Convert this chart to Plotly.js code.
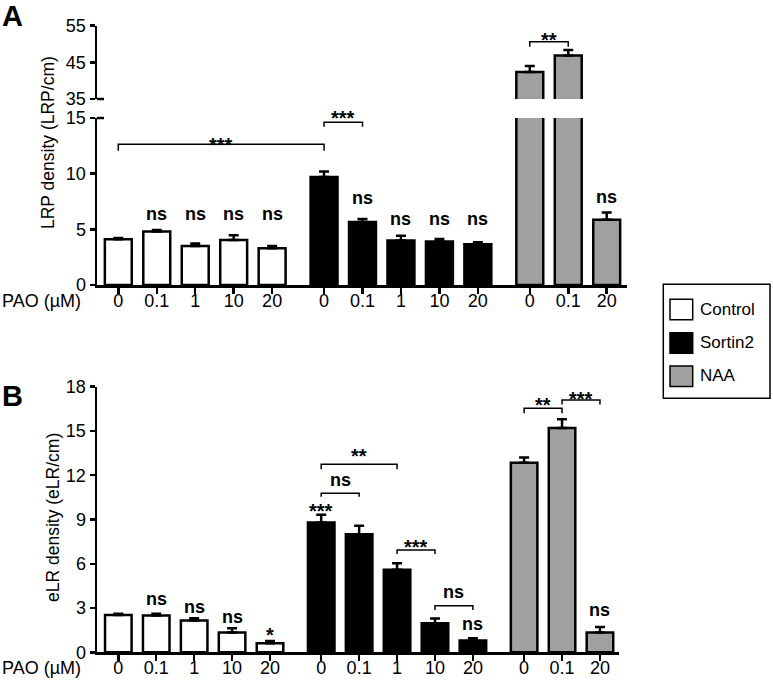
<!DOCTYPE html>
<html><head><meta charset="utf-8">
<script src="https://cdn.plot.ly/plotly-3.0.1.min.js"></script>
<style>html,body{margin:0;padding:0;background:#fff}</style>
</head><body><div id="chart" style="width:773px;height:682px"></div>
<script>
// ---------- data ----------
const groups = ['Control', 'Sortin2', 'NAA'];
const groupColors = ['#ffffff', '#000000', '#a0a0a0'];
const doseLabels = [['0','0.1','1','10','20'], ['0','0.1','1','10','20'], ['0','0.1','20']];
const lrpMean = [[4.1, 4.8, 3.5, 4.05, 3.3], [9.7, 5.65, 4.0, 3.9, 3.65], [42.4, 46.9, 5.85]];
const lrpErr  = [[0.12, 0.15, 0.22, 0.42, 0.2], [0.5, 0.27, 0.42, 0.23, 0.18], [1.6, 1.5, 0.66]];
const elrMean = [[2.52, 2.5, 2.15, 1.35, 0.62], [8.8, 8.0, 5.6, 1.97, 0.8], [12.85, 15.2, 1.35]];
const elrErr  = [[0.1, 0.12, 0.15, 0.28, 0.15], [0.52, 0.58, 0.43, 0.32, 0.16], [0.36, 0.6, 0.36]];
const xAxisLabel = 'PAO (µM)';
const yTitleA = 'LRP density (LRP/cm)';
const yTitleB = 'eLR density (eLR/cm)';
const lowerTicksA = [0, 5, 10, 15];
const upperTicksA = [35, 45, 55];
const ticksB = [0, 3, 6, 9, 12, 15, 18];

// ---------- layout helpers ----------
const W = 773, H = 682;
const px = v => v / W;
const py = v => 1 - v / H;
const GAP = 1.35;
const FONT = 'Liberation Sans, Arial, sans-serif';
const pxPerUnit = {y: 167 / 15, y2: 73.3 / 20, y3: 265.6 / 18};

const xpos = [];
let off = 0;
doseLabels.forEach((d) => { xpos.push(d.map((_, i) => off + i)); off += d.length - 1 + GAP; });
const allX = [].concat(...xpos);
const allLabels = [].concat(...doseLabels);

function barTrace(g, means, errs, xa, ya) {
  return {
    type: 'bar', x: xpos[g], y: means[g], xaxis: xa, yaxis: ya,
    width: 0.7, name: groups[g], showlegend: false,
    marker: {color: groupColors[g], line: {color: '#000', width: 2.5}},
    error_y: {type: 'data', symmetric: false, array: errs[g], arrayminus: errs[g].map(() => 0),
              color: '#000', thickness: 2.5, width: 5},
    hoverinfo: 'skip'
  };
}

const traces = [];
groups.forEach((_, g) => {
  traces.push(barTrace(g, lrpMean, lrpErr, 'x', 'y'));
  traces.push(barTrace(g, lrpMean, lrpErr, 'x', 'y2'));
  traces.push(barTrace(g, elrMean, elrErr, 'x2', 'y3'));
});

const axisCommon = {
  showline: true, linewidth: 2.5, linecolor: '#000', ticks: 'outside', tickwidth: 2.5,
  tickcolor: '#000', showgrid: false, zeroline: false, fixedrange: true,
  tickfont: {family: FONT, size: 18, color: '#000'}
};

const layout = {
  width: W, height: H, margin: {l: 0, r: 0, t: 0, b: 0},
  paper_bgcolor: '#fff', plot_bgcolor: 'rgba(0,0,0,0)',
  barmode: 'overlay', showlegend: false,
  font: {family: FONT, color: '#000'},
  xaxis: Object.assign({}, axisCommon, {domain: [px(97), px(626.7)], range: [-0.554, 13.22], anchor: 'y',
    tickmode: 'array', tickvals: allX, ticktext: allLabels, ticklen: 6, ticklabelstandoff: -8}),
  yaxis: Object.assign({}, axisCommon, {domain: [py(285), py(118)], range: [0, 15], anchor: 'x',
    tickmode: 'array', tickvals: lowerTicksA, ticklen: 5}),
  yaxis2: Object.assign({}, axisCommon, {domain: [py(99), py(25.7)], range: [35, 55], anchor: 'x',
    tickmode: 'array', tickvals: upperTicksA, ticklen: 5}),
  xaxis2: Object.assign({}, axisCommon, {domain: [px(97), px(619.3)], range: [-0.562, 13.21], anchor: 'y3',
    tickmode: 'array', tickvals: allX, ticktext: allLabels, ticklen: 6, ticklabelstandoff: -8}),
  yaxis3: Object.assign({}, axisCommon, {domain: [py(652.3), py(386.7)], range: [0, 18], anchor: 'x2',
    tickmode: 'array', tickvals: ticksB, ticklen: 5}),
  shapes: [], annotations: []
};

// significance labels above single bars: [group, index, text, y]
const singleA = [[0,1,'ns',6.2],[0,2,'ns',6.2],[0,3,'ns',6.2],[0,4,'ns',6.2],
                 [1,1,'ns',7.63],[1,2,'ns',5.78],[1,3,'ns',5.78],[1,4,'ns',5.78],[2,2,'ns',7.7]];
const singleB = [[0,1,'ns',3.48],[0,2,'ns',2.91],[0,3,'ns',2.24],[0,4,'*',1.51],[1,0,'***',9.91],
                 [1,4,'ns',1.78],[2,2,'ns',2.75]];
// brackets: [g1,i1,g2,i2,yLine,yEnd,text,yLabel, xref, yref]
const bracketA = [[0,0,1,0,12.64,12.06,'***',13.02,'x','y'],[1,0,1,1,14.61,14.22,'***',15.45,'x','y'],
                  [2,0,2,1,50.6,49.26,'**',52.45,'x','y2']];
const bracketB = [[1,0,1,1,10.78,10.55,'ns',11.56,'x2','y3'],[1,0,1,2,12.74,12.4,'**',13.66,'x2','y3'],
                  [1,2,1,3,6.93,6.66,'***',7.45,'x2','y3'],[1,3,1,4,3.16,2.87,'ns',3.93,'x2','y3'],
                  [2,0,2,1,16.54,16.2,'**',17.1,'x2','y3'],[2,1,2,2,17.1,16.8,'***',17.5,'x2','y3']];

function sigText(x, y, t, xr, yr, extraShift) {
  const star = t.indexOf('*') >= 0;
  layout.annotations.push({x: x, y: y, xref: xr, yref: yr, text: '<b>' + t + '</b>',
    showarrow: false, xanchor: 'center', yanchor: 'middle', yshift: (star ? -5 : 2) + (extraShift || 0),
    font: {family: FONT, size: star ? 20 : 18, color: '#000'}});
}
singleA.forEach(s => sigText(xpos[s[0]][s[1]], s[3], s[2], 'x', 'y'));
singleB.forEach(s => sigText(xpos[s[0]][s[1]], s[3], s[2], 'x2', 'y3'));
bracketA.concat(bracketB).forEach(b => {
  const x1 = xpos[b[0]][b[1]], x2 = xpos[b[2]][b[3]];
  layout.shapes.push({type: 'path', xref: b[8], yref: b[9],
    path: `M ${x1} ${b[5]} L ${x1} ${b[4]} L ${x2} ${b[4]} L ${x2} ${b[5]}`,
    line: {color: '#000', width: 1.5}});
  // anchor label on the bracket line (always inside the axis range) and shift it up in pixels
  sigText((x1 + x2) / 2, b[4], b[6], b[8], b[9], (b[7] - b[4]) * pxPerUnit[b[9]]);
});

// axis break caps on panel A
layout.shapes.push({type: 'line', xref: 'paper', yref: 'paper', x0: px(97), x1: px(104), y0: py(99), y1: py(99), line: {color: '#000', width: 2.5}});
layout.shapes.push({type: 'line', xref: 'paper', yref: 'paper', x0: px(97), x1: px(104), y0: py(118), y1: py(118), line: {color: '#000', width: 2.5}});

function paperText(x, y, t, size, xa, angle) {
  layout.annotations.push({x: px(x), y: py(y), xref: 'paper', yref: 'paper', text: t, textangle: angle || 0,
    xanchor: xa, yanchor: 'middle', showarrow: false, font: {family: FONT, size: size, color: '#000'}});
}
// axis titles and x label
paperText(48, 143, yTitleA, 17.5, 'center', -90);
paperText(53, 518, yTitleB, 17.5, 'center', -90);
paperText(0, 301, xAxisLabel, 18, 'left');
paperText(0, 668, xAxisLabel, 18, 'left');
// panel letters
paperText(0, 16, '<b>A</b>', 29, 'left');
paperText(0, 396, '<b>B</b>', 29, 'left');

// legend box
layout.shapes.push({type: 'rect', xref: 'paper', yref: 'paper', x0: px(663.3), x1: px(770), y0: py(398.3), y1: py(284.3),
  line: {color: '#000', width: 1.5}, fillcolor: 'rgba(0,0,0,0)'});
const legTops = [299.3, 332.7, 366];
groups.forEach((g, i) => {
  layout.shapes.push({type: 'rect', xref: 'paper', yref: 'paper', x0: px(670), x1: px(692.7),
    y0: py(legTops[i] + 20.5), y1: py(legTops[i]), line: {color: '#000', width: 1.5}, fillcolor: groupColors[i]});
  paperText(698, legTops[i] + 10, g, 17, 'left');
});

Plotly.newPlot('chart', traces, layout, {staticPlot: true, displayModeBar: false});
</script></body></html>
